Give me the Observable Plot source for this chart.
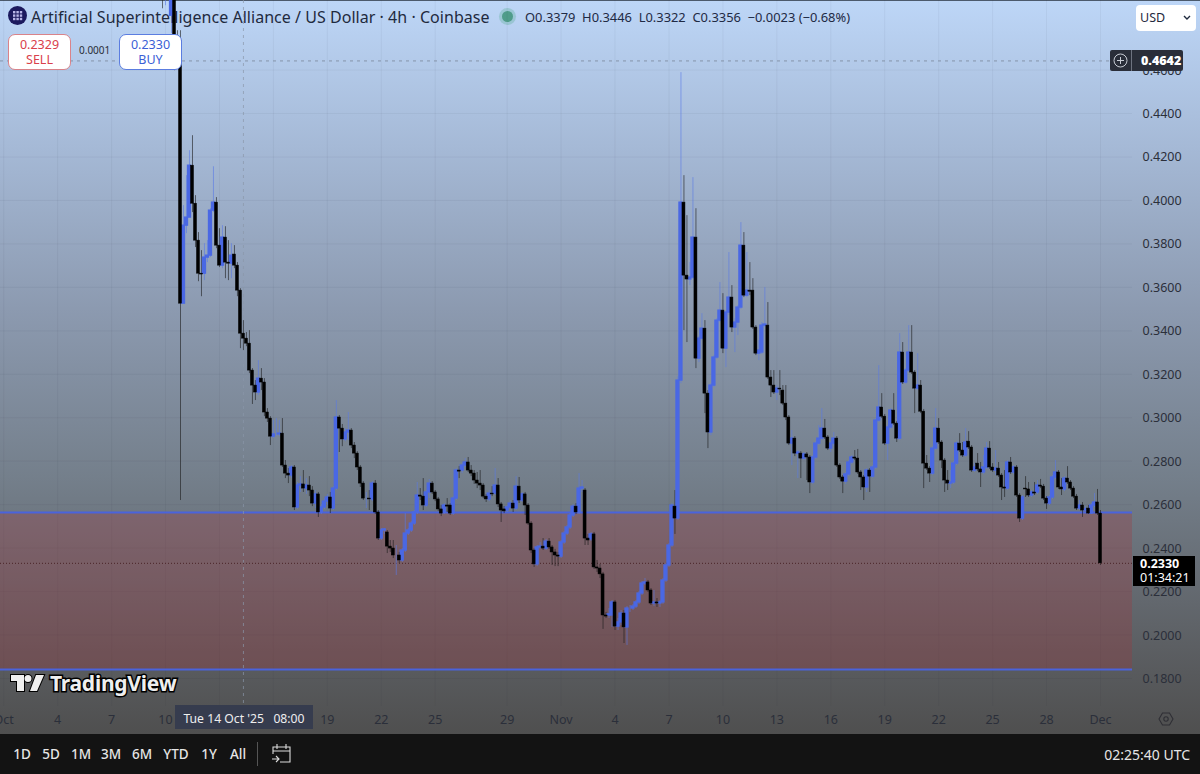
<!DOCTYPE html>
<html><head><meta charset="utf-8">
<script src="https://cdn.jsdelivr.net/npm/d3@7"></script>
<script src="https://cdn.jsdelivr.net/npm/@observablehq/plot@0.6"></script>
<style>
html,body{margin:0;padding:0;width:1200px;height:774px;overflow:hidden;background:#131313;font-family:"Noto Sans",sans-serif}
#stage{position:relative;width:1200px;height:774px;overflow:hidden}
#bg{position:absolute;left:0;top:0;width:1200px;height:734px;background:linear-gradient(180deg,#bdd6f7 0%,#a5b9d6 20%,#8c9ab0 42%,#747f8b 65%,#5c5f63 88%,#4f4f4f 100%);border-top:1px solid #4c5a6c;box-sizing:border-box}
#chart{position:absolute;left:0;top:0;width:1200px;height:734px;z-index:2}
.o{position:absolute;white-space:nowrap}
#title{left:31px;top:6px;font-size:16px;line-height:22px;color:#1f2a3e;z-index:1;letter-spacing:.035px}
#ohlc{left:525px;top:8px;font-size:12.9px;line-height:18px;color:#1f2a44;z-index:1}
#logo{left:8px;top:6px;width:19px;height:19px;border-radius:50%;background:#1c1a5e;z-index:1}
#dot{left:502px;top:11px;width:11px;height:11px;border-radius:50%;background:#4f9c8a;box-shadow:0 0 0 3px rgba(80,170,140,.3);z-index:1}
.tbox{z-index:3;box-sizing:border-box;width:63px;height:36px;background:#fff;border-radius:7px;text-align:center;font-size:12.5px;line-height:15px;padding-top:2px}
#qty{left:79px;top:43px;font-size:10px;line-height:14px;color:#2a2e39;z-index:3}
#usd{left:1136px;top:5px;width:60px;height:26px;background:#fff;border-radius:4px;z-index:3;font-size:12.5px;line-height:26px;color:#1f2a3e;padding-left:4px;box-sizing:border-box}
#cross{left:1110px;top:50px;width:73px;height:21px;background:#2a2e39;border-radius:2px;z-index:3;color:#fff;font-size:12.5px;font-weight:700;line-height:21px}
#cross b{position:absolute;left:31px;top:0}
#cross i{position:absolute;left:21px;top:0;width:1px;height:21px;background:#6e7380}
#last{left:1133px;top:556px;width:62px;height:30px;background:#000;z-index:3;color:#fff;font-size:12.5px;line-height:14px;padding:1px 0 0 7px;box-sizing:border-box}
#dateTag{left:175px;top:705px;width:138px;height:24px;background:#363c4e;z-index:3;color:#eee;font-size:12.2px;line-height:27px;text-align:center;word-spacing:0}
#wm{left:50px;top:668px;font-size:21px;line-height:30px;font-weight:700;color:#efefef;-webkit-text-stroke:3px #000;paint-order:stroke fill;z-index:3;letter-spacing:-.25px}
#bar{left:0;top:734px;width:1200px;height:40px;background:#131313;z-index:3}
.btn{position:absolute;top:0;line-height:41px;font-size:13.5px;color:#e6e6e6;transform:translateX(-50%);font-weight:500}
#clock{position:absolute;right:10px;top:0;line-height:41px;font-size:14px;color:#e6e6e6}
</style></head><body>
<div id="stage">
<div id="bg"></div>
<div id="logo" class="o"><svg width="19" height="19" viewBox="0 0 19 19"><g fill="#b9b6e8"><rect x="5" y="5" width="2.4" height="2.4"/><rect x="8.4" y="5" width="2.4" height="2.4"/><rect x="11.8" y="5" width="2.4" height="2.4"/><rect x="5" y="8.4" width="2.4" height="2.4"/><rect x="8.4" y="8.4" width="2.4" height="2.4"/><rect x="11.8" y="8.4" width="2.4" height="2.4"/><rect x="5" y="11.8" width="2.4" height="2.4"/><rect x="8.4" y="11.8" width="2.4" height="2.4"/><rect x="11.8" y="11.8" width="2.4" height="2.4"/></g></svg></div>
<div id="title" class="o">Artificial Superintelligence Alliance / US Dollar · 4h · Coinbase</div>
<div id="dot" class="o"></div>
<div id="ohlc" class="o">O0.3379&nbsp; H0.3446&nbsp; L0.3322&nbsp; C0.3356&nbsp; −0.0023 (−0.68%)</div>
<div id="chart"></div>
<div class="o tbox" style="left:8px;top:34px;border:1px solid #d9838a;color:#d9404b">0.2329<br>SELL</div>
<div id="qty" class="o">0.0001</div>
<div class="o tbox" style="left:119px;top:34px;border:1px solid #5b7de0;color:#3b5fd6">0.2330<br>BUY</div>
<div id="usd" class="o">USD<svg style="position:absolute;right:5px;top:10px" width="8" height="6" viewBox="0 0 8 6"><path d="M1 1l3 3 3-3" fill="none" stroke="#1f2a3e" stroke-width="1.4"/></svg></div>
<div id="cross" class="o"><svg style="position:absolute;left:3px;top:3px" width="15" height="15" viewBox="0 0 15 15"><circle cx="7.5" cy="7.5" r="6.5" fill="none" stroke="#c8ccd4"/><path d="M7.5 4v7M4 7.5h7" stroke="#c8ccd4"/></svg><i></i><b>0.4642</b></div>
<div id="last" class="o"><b>0.2330</b><br>01:34:21</div>
<div id="dateTag" class="o">Tue 14 Oct '25&nbsp;&nbsp; 08:00</div>
<svg class="o" style="left:10px;top:672px;z-index:3" width="36" height="22" viewBox="0 0 36 22"><path d="M14 3H1v6h6v10h7V3zM27 19h-7l6-16h8l-7 16zM18 10a3.5 3.5 0 1 0 0-7 3.5 3.5 0 0 0 0 7z" fill="#efefef" stroke="#000" stroke-width="2" paint-order="stroke"/></svg>
<div id="wm" class="o">TradingView</div>
<svg class="o" style="left:1158px;top:711px;z-index:3" width="16" height="16" viewBox="0 0 16 16"><path d="M4.5 2h7L15 8l-3.5 6h-7L1 8z" fill="none" stroke="#2f2f35" stroke-width="1.1"/><circle cx="8" cy="8" r="2.2" fill="none" stroke="#2f2f35" stroke-width="1.1"/></svg>
<div id="bar" class="o"></div>
</div>
<script>
// Candle series, 4h; the first candle opens the array, one step = 4 hours
const firstCandle = "2025-10-09T20:00:00Z";
const opens = [
.5002,.4974,.4983,.4850,.5011,.4753,.4735,.3525,.3884,.3921,
.4160,.3985,.3815,.3663,.3663,.3737,.3746,.3953,.3990,.3792,
.3700,.3829,.3714,.3709,.3751,.3700,.3585,.3387,.3364,.3341,
.3217,.3148,.3116,.3180,.3162,.3024,.2996,.2913,.2923,.2923,
.2927,.2780,.2743,.2734,.2771,.2587,.2688,.2693,.2674,.2688,
.2665,.2605,.2647,.2564,.2587,.2614,.2633,.2582,.2674,.3001,
.2950,.2900,.2932,.2941,.2872,.2835,.2771,.2697,.2628,.2628,
.2624,.2697,.2564,.2444,.2481,.2472,.2407,.2398,.2366,.2366,
.2343,.2389,.2467,.2481,.2513,.2564,.2642,.2637,.2596,.2656,
.2697,.2656,.2624,.2578,.2564,.2596,.2596,.2559,.2628,.2757,
.2757,.2780,.2794,.2757,.2743,.2711,.2697,.2688,.2637,.2624,
.2651,.2651,.2688,.2601,.2578,.2573,.2587,.2605,.2582,.2683,
.2619,.2647,.2596,.2513,.2389,.2325,.2403,.2407,.2398,.2430,
.2403,.2380,.2366,.2361,.2426,.2467,.2495,.2550,.2591,.2564,
.2674,.2665,.2444,.2440,.2463,.2311,.2306,.2279,.2090,.2090,
.2090,.2150,.2039,.2058,.2099,.2035,.2122,.2122,.2131,.2150,
.2191,.2237,.2242,.2205,.2145,.2150,.2145,.2150,.2251,.2320,
.2412,.2591,.2536,.3171,.3990,.3654,.3636,.3645,.3829,.3272,
.3364,.3410,.3111,.2932,.3148,.3277,.3447,.3493,.3318,.3484,
.3553,.3415,.3438,.3507,.3792,.3562,.3585,.3585,.3415,.3295,
.3300,.3424,.3424,.3185,.3148,.3116,.3134,.3125,.3065,.3001,
.2881,.2904,.2835,.2835,.2812,.2831,.2817,.2702,.2817,.2881,
.2904,.2950,.2909,.2858,.2881,.2904,.2780,.2725,.2706,.2739,
.2794,.2817,.2812,.2748,.2725,.2679,.2757,.2729,.2771,.2987,
.3047,.3005,.2881,.2955,.3033,.2973,.2904,.3300,.3162,.3217,
.3300,.3208,.3134,.3148,.3028,.2789,.2766,.2743,.2858,.2950,
.2886,.2803,.2711,.2697,.2702,.2789,.2881,.2849,.2826,.2890,
.2863,.2757,.2789,.2762,.2748,.2771,.2858,.2771,.2757,.2766,
.2734,.2679,.2674,.2794,.2748,.2771,.2642,.2536,.2674,.2670,
.2642,.2656,.2656,.2688,.2683,.2628,.2605,.2633,.2725,.2748,
.2679,.2670,.2720,.2702,.2674,.2637,.2582,.2596,.2573,.2582,
.2559,.2596,.2610,.2559];
const closes = [
.4974,.4983,.4993,.5011,.4753,.4735,.3525,.3884,.3921,.4160,
.3985,.3815,.3663,.3659,.3737,.3746,.3953,.3990,.3792,.3700,
.3829,.3714,.3709,.3746,.3700,.3585,.3387,.3364,.3341,.3217,
.3148,.3116,.3180,.3162,.3024,.2996,.2913,.2923,.2923,.2927,
.2780,.2743,.2734,.2771,.2587,.2688,.2693,.2674,.2688,.2665,
.2605,.2647,.2564,.2587,.2614,.2633,.2582,.2674,.3001,.2950,
.2900,.2932,.2941,.2872,.2835,.2771,.2697,.2628,.2628,.2624,
.2697,.2564,.2444,.2481,.2486,.2407,.2398,.2366,.2366,.2343,
.2389,.2467,.2481,.2513,.2564,.2642,.2637,.2596,.2656,.2697,
.2656,.2624,.2578,.2559,.2596,.2591,.2559,.2628,.2757,.2752,
.2780,.2794,.2757,.2743,.2711,.2697,.2688,.2637,.2624,.2651,
.2647,.2688,.2601,.2573,.2569,.2587,.2605,.2582,.2683,.2619,
.2647,.2596,.2513,.2389,.2325,.2403,.2407,.2398,.2430,.2403,
.2380,.2366,.2361,.2426,.2467,.2495,.2550,.2591,.2564,.2674,
.2679,.2444,.2435,.2463,.2311,.2306,.2279,.2090,.2085,.2095,
.2150,.2039,.2058,.2099,.2035,.2122,.2122,.2131,.2150,.2191,
.2237,.2242,.2205,.2145,.2150,.2145,.2150,.2251,.2320,.2412,
.2596,.2536,.3171,.3990,.3654,.3636,.3645,.3829,.3272,.3364,
.3410,.3111,.2932,.3148,.3277,.3447,.3493,.3318,.3484,.3553,
.3415,.3438,.3507,.3792,.3562,.3585,.3580,.3415,.3295,.3309,
.3424,.3429,.3185,.3148,.3116,.3134,.3130,.3065,.3001,.2881,
.2904,.2835,.2840,.2812,.2831,.2817,.2702,.2817,.2881,.2904,
.2950,.2909,.2858,.2881,.2904,.2780,.2725,.2706,.2739,.2794,
.2817,.2812,.2748,.2725,.2679,.2757,.2729,.2771,.2987,.3047,
.3005,.2881,.2955,.3033,.2973,.2904,.3300,.3162,.3217,.3300,
.3208,.3134,.3148,.3028,.2789,.2766,.2743,.2858,.2950,.2886,
.2803,.2711,.2697,.2702,.2789,.2881,.2849,.2826,.2886,.2863,
.2757,.2771,.2762,.2748,.2771,.2858,.2771,.2757,.2766,.2734,
.2679,.2674,.2794,.2748,.2771,.2642,.2536,.2633,.2670,.2642,
.2656,.2651,.2688,.2683,.2628,.2605,.2633,.2725,.2748,.2679,
.2670,.2720,.2702,.2674,.2637,.2582,.2596,.2573,.2578,.2559,
.2596,.2610,.2559,.2330];
const highs = [
.5057,.5057,.5048,.5034,.5034,.4781,.4781,.3976,.4114,.4229,
.4298,.4022,.3852,.3769,.3801,.3815,.3962,.4155,.4013,.3870,
.3884,.3879,.3815,.3801,.3792,.3714,.3594,.3447,.3392,.3401,
.3226,.3171,.3263,.3226,.3180,.3042,.3005,.2987,.2996,.2987,
.2996,.2803,.2766,.2780,.2780,.2702,.2729,.2757,.2720,.2729,
.2683,.2665,.2656,.2601,.2628,.2647,.2656,.2683,.3079,.3010,
.2969,.2950,.3024,.2950,.2886,.2844,.2780,.2706,.2656,.2665,
.2706,.2711,.2573,.2490,.2490,.2481,.2435,.2435,.2412,.2380,
.2398,.2559,.2490,.2522,.2573,.2702,.2674,.2720,.2665,.2716,
.2706,.2665,.2633,.2596,.2605,.2628,.2605,.2637,.2766,.2775,
.2789,.2812,.2817,.2780,.2757,.2748,.2757,.2697,.2647,.2665,
.2683,.2766,.2720,.2610,.2591,.2596,.2619,.2619,.2729,.2725,
.2656,.2656,.2605,.2522,.2398,.2412,.2426,.2444,.2440,.2444,
.2412,.2394,.2380,.2435,.2476,.2504,.2559,.2601,.2605,.2743,
.2711,.2674,.2463,.2472,.2472,.2343,.2325,.2288,.2104,.2122,
.2159,.2159,.2076,.2113,.2113,.2131,.2136,.2141,.2159,.2200,
.2246,.2260,.2251,.2214,.2205,.2168,.2159,.2260,.2329,.2421,
.2605,.2665,.3189,.4588,.4114,.3930,.3714,.4105,.3962,.3373,
.3479,.3447,.3125,.3157,.3286,.3456,.3622,.3571,.3493,.3760,
.3608,.3456,.3516,.3898,.3852,.3760,.3714,.3640,.3424,.3355,
.3438,.3599,.3530,.3217,.3217,.3148,.3217,.3148,.3148,.3010,
.2941,.2913,.2849,.2844,.2840,.2840,.2826,.2826,.2890,.2964,
.3042,.2992,.2918,.2890,.2932,.2913,.2789,.2734,.2748,.2803,
.2826,.2849,.2854,.2757,.2734,.2766,.2766,.2780,.2996,.3240,
.3111,.3015,.2964,.3042,.3111,.2982,.3387,.3346,.3226,.3424,
.3424,.3217,.3295,.3171,.3038,.2826,.2775,.2867,.3042,.2996,
.2895,.2812,.2757,.2757,.2798,.2890,.2927,.2886,.2950,.2936,
.2872,.2789,.2835,.2794,.2826,.2886,.2890,.2789,.2849,.2794,
.2743,.2757,.2803,.2817,.2780,.2780,.2651,.2642,.2729,.2702,
.2665,.2702,.2711,.2716,.2693,.2637,.2642,.2734,.2803,.2757,
.2720,.2729,.2775,.2711,.2683,.2647,.2619,.2610,.2591,.2596,
.2605,.2651,.2670,.2573];
const lows = [
.4882,.4896,.4928,.4767,.4597,.4680,.2619,.3525,.3847,.3921,
.3944,.3783,.3626,.3557,.3631,.3714,.3737,.3944,.3778,.3691,
.3686,.3640,.3631,.3640,.3686,.3557,.3318,.3309,.3327,.3203,
.3061,.3079,.3102,.3125,.3005,.2978,.2872,.2904,.2913,.2913,
.2771,.2720,.2697,.2720,.2573,.2578,.2656,.2656,.2647,.2637,
.2591,.2582,.2541,.2555,.2578,.2596,.2559,.2573,.2665,.2840,
.2867,.2890,.2895,.2858,.2812,.2757,.2679,.2619,.2582,.2573,
.2614,.2555,.2435,.2435,.2463,.2375,.2380,.2352,.2274,.2329,
.2334,.2380,.2458,.2472,.2504,.2555,.2619,.2573,.2587,.2628,
.2647,.2614,.2569,.2545,.2555,.2564,.2550,.2550,.2619,.2720,
.2743,.2771,.2748,.2729,.2693,.2674,.2665,.2628,.2610,.2614,
.2637,.2642,.2587,.2518,.2559,.2564,.2578,.2564,.2573,.2605,
.2610,.2550,.2504,.2375,.2311,.2315,.2394,.2389,.2389,.2394,
.2320,.2315,.2315,.2352,.2417,.2458,.2486,.2541,.2555,.2555,
.2656,.2412,.2412,.2430,.2302,.2288,.2260,.2026,.2076,.2076,
.2035,.2021,.2021,.2044,.1961,.1952,.2104,.2113,.2122,.2141,
.2182,.2228,.2196,.2136,.2131,.2127,.2127,.2141,.2242,.2311,
.2403,.2463,.2527,.3157,.3401,.3346,.3608,.3636,.3226,.3254,
.3355,.3019,.2858,.2918,.3139,.3268,.3438,.3295,.3231,.3470,
.3392,.3300,.3378,.3498,.3553,.3553,.3562,.3406,.3286,.3263,
.3291,.3415,.3176,.3093,.3107,.3079,.3102,.3056,.2987,.2872,
.2780,.2821,.2720,.2720,.2803,.2711,.2651,.2693,.2808,.2872,
.2895,.2900,.2849,.2840,.2867,.2771,.2716,.2651,.2693,.2729,
.2785,.2803,.2739,.2665,.2619,.2656,.2656,.2720,.2762,.2978,
.2996,.2872,.2803,.2946,.2964,.2886,.2895,.3153,.3153,.3208,
.3199,.3019,.3125,.3019,.2674,.2757,.2702,.2734,.2849,.2877,
.2766,.2656,.2665,.2674,.2693,.2780,.2840,.2817,.2817,.2854,
.2748,.2748,.2752,.2679,.2739,.2762,.2762,.2748,.2734,.2725,
.2619,.2633,.2665,.2739,.2739,.2633,.2518,.2527,.2633,.2633,
.2633,.2642,.2647,.2674,.2619,.2578,.2596,.2624,.2716,.2670,
.2642,.2660,.2693,.2665,.2628,.2573,.2573,.2541,.2569,.2555,
.2555,.2587,.2550,.2320];

const priceTicks = [.18,.20,.22,.24,.26,.28,.30,.32,.34,.36,.38,.40,.42,.44,.46];
const dateTicks = ["2025-10-01","2025-10-04","2025-10-07","2025-10-10","2025-10-13","2025-10-16","2025-10-19","2025-10-22","2025-10-25","2025-10-29","2025-11-01","2025-11-04","2025-11-07","2025-11-10","2025-11-13","2025-11-16","2025-11-19","2025-11-22","2025-11-25","2025-11-28","2025-12-01"];
const dateLabels = ["Oct","4","7","10","13","16","19","22","25","29","Nov","4","7","10","13","16","19","22","25","28","Dec"];
const zoneTop = .2564, zoneBottom = .1841, lastPrice = .2330, crossPrice = .4642;
const crossTime = "2025-10-14T08:00:00Z";
const xDomain = ["2025-09-30T19:44:00Z","2025-12-02T18:43:00Z"];
const yDomain = [.16711,.49201];
const buttons = ["1D","5D","1M","3M","6M","YTD","1Y","All"];

const H4 = 4*3600e3, t0 = +new Date(firstCandle);
const candles = opens.map((o,i)=>({t:new Date(t0+i*H4),a:new Date(t0+i*H4-H4/2),b:new Date(t0+i*H4+H4/2),o,c:closes[i],h:highs[i],l:lows[i],up:closes[i]>=o}));
const ups = candles.filter(d=>d.up), downs = candles.filter(d=>!d.up);
const tickDates = dateTicks.map(d=>new Date(d+"T00:00:00Z"));
const tickText = new Map(tickDates.map((d,i)=>[+d,dateLabels[i]]));
const BLUE="#4a68e4", LINE="#4a63dc", INK="#2b2f3a";
const xd = xDomain.map(d=>new Date(d));

const chart = Plot.plot({
  width:1200,height:734,marginLeft:0,marginRight:68,marginTop:0,marginBottom:28,
  style:{background:"transparent",fontFamily:'"Noto Sans",sans-serif',fontSize:"12.5px"},
  x:{type:"utc",domain:xd},
  y:{domain:yDomain},
  marks:[
    Plot.gridX(tickDates,{stroke:"#2a2e39",strokeOpacity:.05}),
    Plot.gridY(priceTicks,{stroke:"#2a2e39",strokeOpacity:.05}),
    Plot.rect([0],{x1:()=>xd[0],x2:()=>xd[1],y1:()=>zoneBottom,y2:()=>zoneTop,fill:"rgb(165,52,56)",fillOpacity:.28}),
    Plot.ruleY([zoneTop,zoneBottom],{stroke:LINE,strokeWidth:2}),
    Plot.ruleX([new Date(crossTime)],{stroke:"#8a96a8",strokeDasharray:"3 4",strokeOpacity:.7}),
    Plot.ruleY([crossPrice],{stroke:"#7f8da3",strokeDasharray:"3 4",strokeOpacity:.9}),
    Plot.ruleY([lastPrice],{stroke:"#4a2428",strokeDasharray:"1 2"}),
    Plot.ruleX(ups,{x:"t",y1:"l",y2:"h",stroke:"#5a7ae6",strokeWidth:1,strokeOpacity:.6,clip:true}),
    Plot.ruleX(downs,{x:"t",y1:"l",y2:"h",stroke:"#1a1a1a",strokeWidth:1,strokeOpacity:.6,clip:true}),
    Plot.rect(ups,{x1:"a",x2:"b",y1:"o",y2:"c",fill:BLUE,stroke:BLUE,strokeWidth:1.3,clip:true}),
    Plot.rect(downs,{x1:"a",x2:"b",y1:"o",y2:"c",fill:"#000",stroke:"#000",strokeWidth:.5,clip:true}),
    Plot.axisY(priceTicks,{anchor:"right",tickSize:0,tickPadding:10,label:null,tickFormat:d=>d.toFixed(4),fill:INK,dy:0.5}),
    Plot.axisX(tickDates,{anchor:"bottom",tickSize:0,tickPadding:9,label:null,tickFormat:d=>tickText.get(+d),fill:INK})
  ]
});
document.getElementById("chart").appendChild(chart);

const bar=document.getElementById("bar");
const bx=[22,51,81,111,142,176,209,238];
buttons.forEach((b,i)=>{const e=document.createElement("div");e.className="btn";e.style.left=bx[i]+"px";e.textContent=b;bar.appendChild(e)});
bar.insertAdjacentHTML("beforeend",'<div style="position:absolute;left:257px;top:8px;width:1px;height:24px;background:#555"></div><svg style="position:absolute;left:271px;top:8px" width="22" height="24" viewBox="0 0 22 24"><path d="M2 12V5h17v15H9M2 9h17M6 2v5M15 2v5M1 17h7M5 14l3 3-3 3" fill="none" stroke="#ddd" stroke-width="1.1"/></svg><div id="clock">02:25:40 UTC</div>');
</script>
</body></html>
